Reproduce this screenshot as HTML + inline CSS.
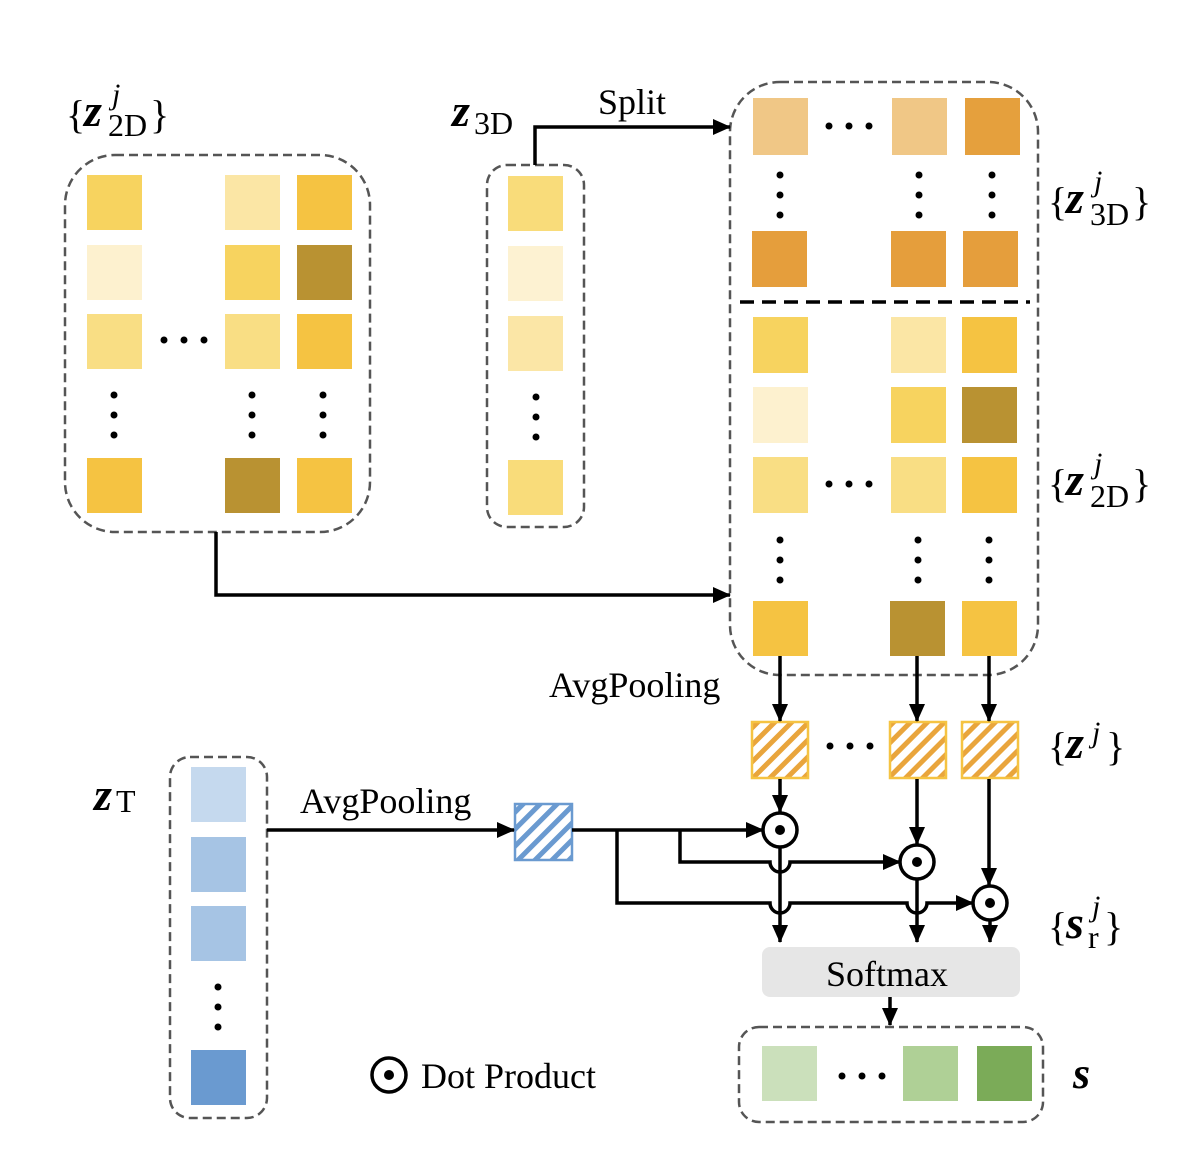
<!DOCTYPE html>
<html><head><meta charset="utf-8"><style>body{margin:0;background:#fff}svg{display:block}text{font-family:"Liberation Serif",serif;fill:#000}</style></head><body>
<svg width="1204" height="1160" viewBox="0 0 1204 1160" xmlns="http://www.w3.org/2000/svg">
<defs>
<marker id="ah" markerWidth="18" markerHeight="16" refX="17" refY="8" orient="auto" markerUnits="userSpaceOnUse" viewBox="0 0 18 16"><path d="M0,0 L18,8 L0,16z" fill="#000"/></marker>
<pattern id="ho" width="12" height="12" patternUnits="userSpaceOnUse" patternTransform="rotate(45)"><rect width="12" height="12" fill="#fff"/><rect width="5" height="12" fill="#E9A53C"/></pattern>
<pattern id="hb" width="12" height="12" patternUnits="userSpaceOnUse" patternTransform="rotate(45)"><rect width="12" height="12" fill="#fff"/><rect width="5" height="12" fill="#6A9AD0"/></pattern>
</defs>
<g fill="none" stroke="#555" stroke-width="2.5" stroke-dasharray="9,5">
<rect x="65" y="155" width="305" height="377" rx="50"/>
<rect x="487" y="165" width="97" height="362" rx="20"/>
<rect x="730" y="82" width="308" height="593" rx="50"/>
<rect x="170" y="757" width="97" height="361" rx="20"/>
<rect x="739" y="1027" width="304" height="95" rx="20"/>
</g>
<line x1="740" y1="302" x2="1030" y2="302" stroke="#000" stroke-width="3.5" stroke-dasharray="14,8"/>
<g>
<rect x="87" y="175" width="55" height="55" fill="#F7D35F"/><rect x="225" y="175" width="55" height="55" fill="#FBE6A5"/><rect x="297" y="175" width="55" height="55" fill="#F5C342"/>
<rect x="87" y="245" width="55" height="55" fill="#FDF1CF"/><rect x="225" y="245" width="55" height="55" fill="#F7D35F"/><rect x="297" y="245" width="55" height="55" fill="#B99232"/>
<rect x="87" y="314" width="55" height="55" fill="#F9DE84"/><rect x="225" y="314" width="55" height="55" fill="#F9DE84"/><rect x="297" y="314" width="55" height="55" fill="#F5C342"/>
<rect x="87" y="458" width="55" height="55" fill="#F5C342"/><rect x="225" y="458" width="55" height="55" fill="#B99232"/><rect x="297" y="458" width="55" height="55" fill="#F5C342"/>
</g>
<rect x="508" y="176" width="55" height="55" fill="#F9DC7A"/><rect x="508" y="246" width="55" height="55" fill="#FDF2D2"/><rect x="508" y="316" width="55" height="55" fill="#FBE6A6"/><rect x="508" y="460" width="55" height="55" fill="#F9DC7A"/>
<rect x="753" y="98" width="55" height="57" fill="#F0C786"/><rect x="892" y="98" width="55" height="57" fill="#F0C786"/><rect x="965" y="98" width="55" height="57" fill="#E5A03D"/>
<rect x="752" y="231" width="55" height="56" fill="#E59E3C"/><rect x="891" y="231" width="55" height="56" fill="#E59E3C"/><rect x="963" y="231" width="55" height="56" fill="#E59E3C"/>
<rect x="753" y="317" width="55" height="56" fill="#F7D35F"/><rect x="891" y="317" width="55" height="56" fill="#FBE6A5"/><rect x="962" y="317" width="55" height="56" fill="#F5C342"/>
<rect x="753" y="387" width="55" height="56" fill="#FDF1CF"/><rect x="891" y="387" width="55" height="56" fill="#F7D35F"/><rect x="962" y="387" width="55" height="56" fill="#B99232"/>
<rect x="753" y="457" width="55" height="56" fill="#F9DE84"/><rect x="891" y="457" width="55" height="56" fill="#F9DE84"/><rect x="962" y="457" width="55" height="56" fill="#F5C342"/>
<rect x="753" y="601" width="55" height="55" fill="#F5C342"/><rect x="890" y="601" width="55" height="55" fill="#B99232"/><rect x="962" y="601" width="55" height="55" fill="#F5C342"/>
<rect x="191" y="767" width="55" height="55" fill="#C5D9EE"/><rect x="191" y="837" width="55" height="55" fill="#A6C4E4"/><rect x="191" y="906" width="55" height="55" fill="#A6C4E4"/><rect x="191" y="1050" width="55" height="55" fill="#6A9AD0"/>
<rect x="762" y="1046" width="55" height="55" fill="#CBE0BB"/><rect x="903" y="1046" width="55" height="55" fill="#AFD096"/><rect x="977" y="1046" width="55" height="55" fill="#7BAB58"/>
<rect x="752" y="722" width="56" height="56" fill="url(#ho)" stroke="#F5C342" stroke-width="2.5"/>
<rect x="890" y="722" width="56" height="56" fill="url(#ho)" stroke="#F5C342" stroke-width="2.5"/>
<rect x="962" y="722" width="56" height="56" fill="url(#ho)" stroke="#F5C342" stroke-width="2.5"/>
<rect x="515" y="804" width="57" height="56" fill="url(#hb)" stroke="#6A9AD0" stroke-width="2.5"/>
<g fill="#000">
<circle cx="164" cy="340" r="3.5"/><circle cx="184" cy="340" r="3.5"/><circle cx="204" cy="340" r="3.5"/>
<circle cx="114" cy="395" r="3.5"/><circle cx="114" cy="415" r="3.5"/><circle cx="114" cy="435" r="3.5"/>
<circle cx="252" cy="395" r="3.5"/><circle cx="252" cy="415" r="3.5"/><circle cx="252" cy="435" r="3.5"/>
<circle cx="323" cy="395" r="3.5"/><circle cx="323" cy="415" r="3.5"/><circle cx="323" cy="435" r="3.5"/>
<circle cx="536" cy="397" r="3.5"/><circle cx="536" cy="417" r="3.5"/><circle cx="536" cy="437" r="3.5"/>
<circle cx="829" cy="126" r="3.5"/><circle cx="849" cy="126" r="3.5"/><circle cx="869" cy="126" r="3.5"/>
<circle cx="780" cy="175" r="3.5"/><circle cx="780" cy="195" r="3.5"/><circle cx="780" cy="215" r="3.5"/>
<circle cx="919" cy="175" r="3.5"/><circle cx="919" cy="195" r="3.5"/><circle cx="919" cy="215" r="3.5"/>
<circle cx="992" cy="175" r="3.5"/><circle cx="992" cy="195" r="3.5"/><circle cx="992" cy="215" r="3.5"/>
<circle cx="829" cy="484" r="3.5"/><circle cx="849" cy="484" r="3.5"/><circle cx="869" cy="484" r="3.5"/>
<circle cx="780" cy="540" r="3.5"/><circle cx="780" cy="560" r="3.5"/><circle cx="780" cy="580" r="3.5"/>
<circle cx="918" cy="540" r="3.5"/><circle cx="918" cy="560" r="3.5"/><circle cx="918" cy="580" r="3.5"/>
<circle cx="989" cy="540" r="3.5"/><circle cx="989" cy="560" r="3.5"/><circle cx="989" cy="580" r="3.5"/>
<circle cx="830" cy="746" r="3.5"/><circle cx="850" cy="746" r="3.5"/><circle cx="870" cy="746" r="3.5"/>
<circle cx="218" cy="987" r="3.5"/><circle cx="218" cy="1007" r="3.5"/><circle cx="218" cy="1027" r="3.5"/>
<circle cx="842" cy="1076" r="3.5"/><circle cx="862" cy="1076" r="3.5"/><circle cx="882" cy="1076" r="3.5"/>
</g>
<g fill="none" stroke="#000" stroke-width="3.5">
<polyline points="535,165 535,127 730,127" marker-end="url(#ah)"/>
<polyline points="216,532 216,595 730,595" marker-end="url(#ah)"/>
<line x1="780" y1="656" x2="780" y2="721" marker-end="url(#ah)"/>
<line x1="917" y1="656" x2="917" y2="721" marker-end="url(#ah)"/>
<line x1="989" y1="656" x2="989" y2="721" marker-end="url(#ah)"/>
<line x1="780" y1="779" x2="780" y2="812" marker-end="url(#ah)"/>
<line x1="917" y1="779" x2="917" y2="844" marker-end="url(#ah)"/>
<line x1="989" y1="779" x2="989" y2="885" marker-end="url(#ah)"/>
<line x1="267" y1="830" x2="514" y2="830" marker-end="url(#ah)"/>
<polyline points="572,830 763,830" marker-end="url(#ah)"/>
<path d="M680,830 V862 H770 a10,10 0 0 0 20,0 H900" marker-end="url(#ah)"/>
<path d="M617,830 V903 H770 a10,10 0 0 0 20,0 H907 a10,10 0 0 0 20,0 H973" marker-end="url(#ah)"/>
<line x1="780" y1="847" x2="780" y2="942" marker-end="url(#ah)"/>
<line x1="917" y1="879" x2="917" y2="942" marker-end="url(#ah)"/>
<line x1="990" y1="920" x2="990" y2="942" marker-end="url(#ah)"/>
<line x1="890" y1="997" x2="890" y2="1025" marker-end="url(#ah)"/>
</g>
<g fill="#fff" stroke="#000" stroke-width="3.5">
<circle cx="780" cy="830" r="17"/><circle cx="917" cy="862" r="17"/><circle cx="990" cy="903" r="17"/><circle cx="389" cy="1075" r="17"/>
</g>
<g fill="#000"><circle cx="780" cy="830" r="5"/><circle cx="917" cy="862" r="5"/><circle cx="990" cy="903" r="5"/><circle cx="389" cy="1075" r="5"/></g>
<rect x="762" y="947" width="258" height="50" rx="8" fill="#E6E6E6"/>
<g font-size="36">
<text x="826" y="986">Softmax</text>
<text x="421" y="1088">Dot Product</text>
<text x="598" y="114">Split</text>
<text x="549" y="697">AvgPooling</text>
<text x="300" y="813">AvgPooling</text>
</g>
<g font-size="40">
<text x="66" y="128">{</text><text x="84" y="126" font-weight="bold" font-style="italic" font-size="46">z</text><text x="112" y="104" font-style="italic" font-size="30">j</text><text x="108" y="136" font-size="32">2D</text><text x="150" y="128">}</text>
<text x="452" y="126" font-weight="bold" font-style="italic" font-size="46">z</text><text x="474" y="134" font-size="32">3D</text>
<text x="1048" y="215">{</text><text x="1066" y="213" font-weight="bold" font-style="italic" font-size="46">z</text><text x="1094" y="191" font-style="italic" font-size="30">j</text><text x="1090" y="225" font-size="32">3D</text><text x="1132" y="215">}</text>
<text x="1048" y="497">{</text><text x="1066" y="495" font-weight="bold" font-style="italic" font-size="46">z</text><text x="1094" y="473" font-style="italic" font-size="30">j</text><text x="1090" y="507" font-size="32">2D</text><text x="1132" y="497">}</text>
<text x="1048" y="760">{</text><text x="1066" y="758" font-weight="bold" font-style="italic" font-size="46">z</text><text x="1092" y="742" font-style="italic" font-size="30">j</text><text x="1106" y="760">}</text>
<text x="1048" y="940">{</text><text x="1066" y="938" font-weight="bold" font-style="italic" font-size="46">s</text><text x="1092" y="916" font-style="italic" font-size="30">j</text><text x="1088" y="948" font-size="32">r</text><text x="1104" y="940">}</text>
<text x="94" y="810" font-weight="bold" font-style="italic" font-size="46">z</text><text x="116" y="812" font-size="32">T</text>
<text x="1073" y="1088" font-weight="bold" font-style="italic" font-size="44">s</text>
</g>
</svg>
</body></html>
